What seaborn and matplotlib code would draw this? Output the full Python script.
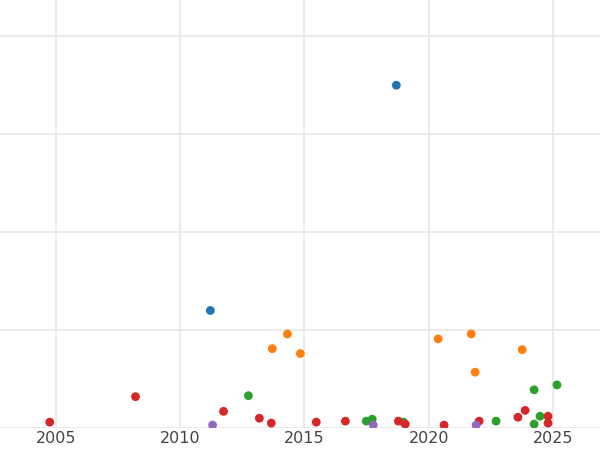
import pandas as pd
import matplotlib
matplotlib.use("Agg")
import matplotlib.pyplot as plt
import seaborn as sns

# ----------------------------
# Data
# ----------------------------
blue_x = [2018.70, 2011.22]
blue_y = [3.50, 1.20]
orange_x = [2014.32, 2013.71, 2014.84, 2020.38, 2021.71, 2023.76, 2021.87]
orange_y = [0.96, 0.81, 0.76, 0.91, 0.96, 0.80, 0.57]
green_x = [2012.75, 2017.49, 2017.73, 2018.98, 2022.71, 2024.24, 2025.16, 2024.48, 2024.24]
green_y = [0.33, 0.07, 0.09, 0.06, 0.07, 0.39, 0.44, 0.12, 0.04]
red_x = [2004.76, 2008.21, 2011.75, 2013.19, 2013.67, 2015.48, 2016.65, 2018.78,
         2019.06, 2020.62, 2022.03, 2023.59, 2023.88, 2024.80, 2024.80]
red_y = [0.06, 0.32, 0.17, 0.10, 0.05, 0.06, 0.07, 0.07,
         0.04, 0.03, 0.07, 0.11, 0.18, 0.12, 0.05]
purple_x = [2011.31, 2017.77, 2021.91]
purple_y = [0.03, 0.03, 0.03]

groups = [("a", blue_x, blue_y), ("b", orange_x, orange_y), ("c", green_x, green_y),
          ("d", red_x, red_y), ("e", purple_x, purple_y)]
df = pd.DataFrame([(g, x, y) for g, xs, ys in groups for x, y in zip(xs, ys)],
                  columns=["group", "year", "value"])

sns.set_theme(style="whitegrid")
fig = plt.figure(figsize=(6, 4.5), dpi=100)
ax = fig.add_axes([0, 22 / 450, 1, 428 / 450])
sns.scatterplot(data=df, x="year", y="value", hue="group",
                palette=["#1f77b4", "#ff7f0e", "#2ca02c", "#d62728", "#9467bd"],
                s=40, linewidth=0, legend=False, ax=ax)

ax.set_xlim(2002.76, 2026.89)
ax.set_ylim(0, 4.37)
ax.set_xticks([2005, 2010, 2015, 2020, 2025])
ax.set_yticks([0, 1, 2, 3, 4])
ax.set_yticklabels([])
ax.tick_params(axis="x", labelsize=11.5, labelcolor="#444444", pad=2, length=0)
ax.tick_params(axis="y", length=0)
ax.grid(color="#e8e8e8", linewidth=1.2)
for s in ax.spines.values():
    s.set_visible(False)
ax.set_xlabel("")
ax.set_ylabel("")

fig.savefig("out.png", dpi=100)
